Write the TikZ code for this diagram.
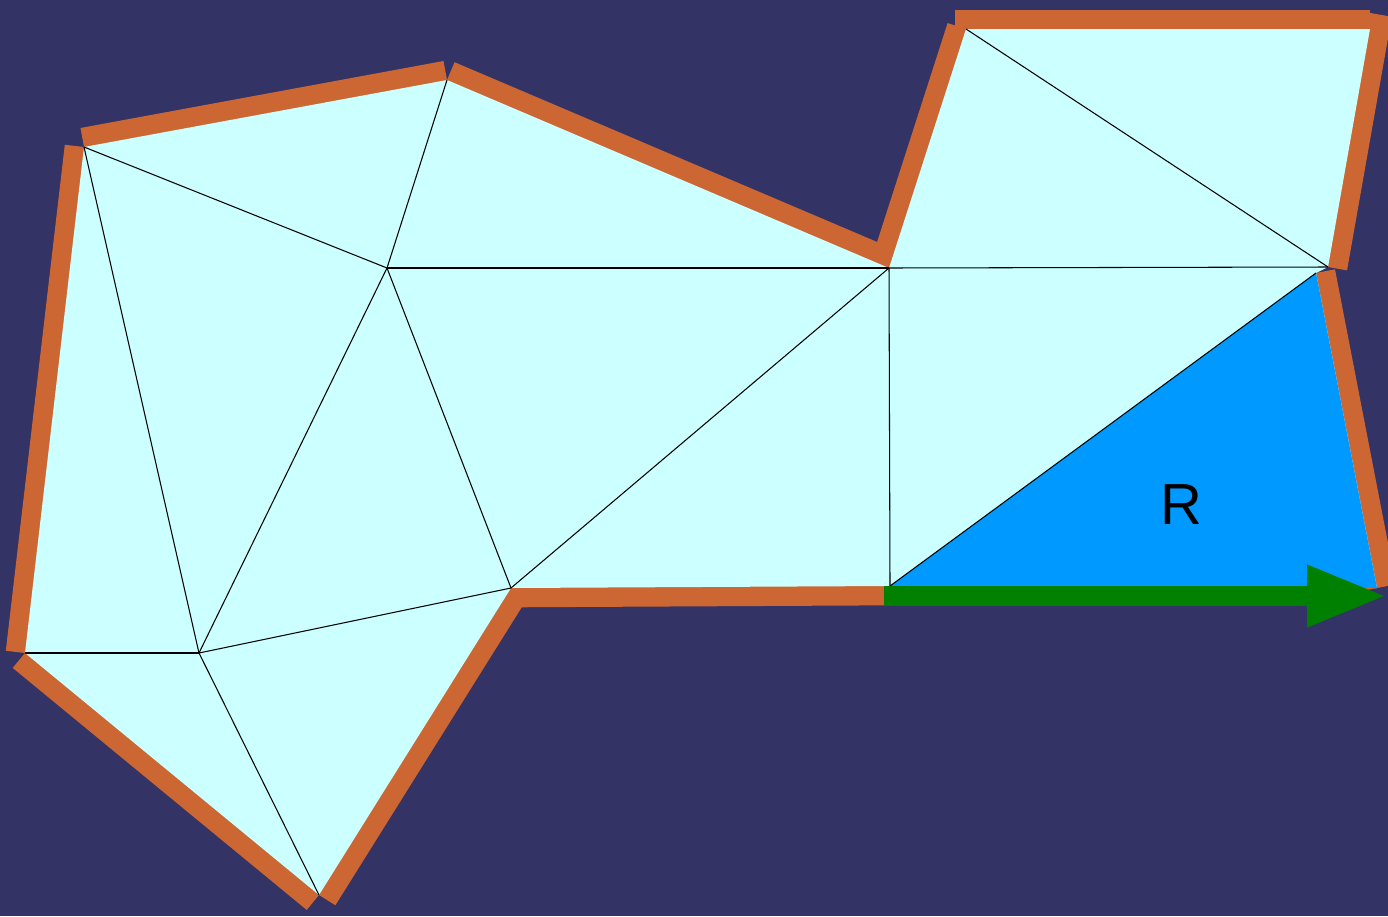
\documentclass[tikz,border=0pt]{standalone}
\usepackage{fontspec}
\setmainfont{Liberation Sans}
\usetikzlibrary{arrows.meta}
\definecolor{bg}{HTML}{333366}
\definecolor{mesh}{HTML}{CCFFFF}
\definecolor{rim}{HTML}{CC6633}
\definecolor{hot}{HTML}{0099FF}
\definecolor{dir}{HTML}{008000}
\begin{document}
\begin{tikzpicture}[x=0.02cm, y=-0.02cm,
  rim/.style={draw=rim, line width=22pt},
  edge/.style={draw=black, line width=0.6pt}]
\fill[bg] (0,0) rectangle (1388,916);
\useasboundingbox (0,0) rectangle (1388,916);
\coordinate (a) at (84,147);
\coordinate (b) at (447,80);
\coordinate (c) at (889,268);
\coordinate (d) at (966,29);
\coordinate (e) at (1370,29);
\coordinate (f) at (1328,267);
\coordinate (f2) at (1316,273);
\coordinate (g) at (1377,588);
\coordinate (h) at (890,586);
\coordinate (i) at (511,588);
\coordinate (j) at (319,895);
\coordinate (k) at (25,653);
\coordinate (l) at (199,653);
\coordinate (m) at (387,268);
\coordinate (p) at (884,596);
\coordinate (q) at (1388,596);

\draw[rim] (k) -- (a);
\draw[rim] (a) -- (b);
\draw[rim] (b) -- (c);
\draw[rim] (c) -- (d);
\draw[rim, shorten <=-6pt] (d) -- (e);
\draw[rim, shorten <=-9pt] (e) -- (f);
\draw[rim] (f2) -- (g);
\draw[rim] (h) -- (i);
\draw[rim] (i) -- (j);
\draw[rim] (j) -- (k);

\fill[mesh] (a) -- (b) -- (c) -- (d) -- (e) -- (f) -- (f2) -- (g) -- (h) -- (i) -- (j) -- (k) -- cycle;
\fill[hot] (f2) -- (g) -- (h) -- cycle;

\draw[edge] (a) -- (m);
\draw[edge] (a) -- (l);
\draw[edge] (b) -- (m);
\draw[edge] (m) -- (c);
\draw[edge] (m) -- (l);
\draw[edge] (m) -- (i);
\draw[edge] (k) -- (l);
\draw[edge] (l) -- (i);
\draw[edge] (l) -- (j);
\draw[edge] (c) -- (i);
\draw[edge] (c) -- (h);
\draw[edge] (c) -- (f);
\draw[edge] (d) -- (f);
\draw[edge] (f2) -- (h);

\draw[dir, line width=11.3pt, -{Triangle[length=46pt, width=32pt]}] (p) -- (q);
\node (r) at (1181,505) {\fontsize{33}{36}\selectfont R};
\end{tikzpicture}
\end{document}
